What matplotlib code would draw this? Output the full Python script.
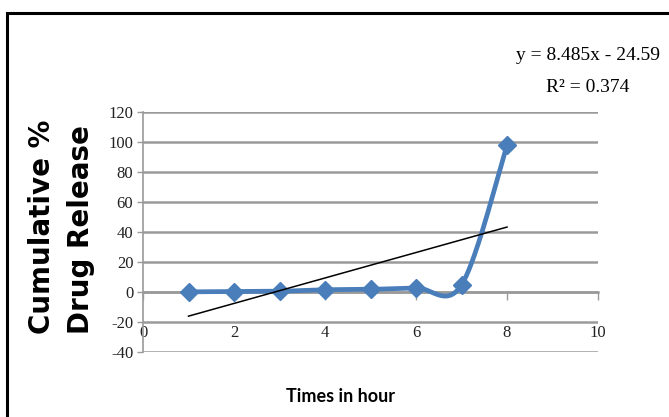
import numpy as np
import matplotlib
matplotlib.use("Agg")
import matplotlib.pyplot as plt
from matplotlib.patches import Rectangle

# Release data
hours = [1, 2, 3, 4, 5, 6, 7, 8]
release = [0.1, 0.3, 0.5, 1.5, 1.8, 2.8, 4.7, 97.7]

# Linear trendline
slope = 8.485
intercept = -24.59
r_squared = 0.374

x_ticks = [0, 2, 4, 6, 8, 10]
y_ticks = [-40, -20, 0, 20, 40, 60, 80, 100, 120]

BLUE = "#4A7EBB"
GRID = "#9a9a9a"


def smooth_curve(xs, ys, n=40):
    """Bezier smoothing through every point (spreadsheet-style smoothed line)."""
    xs = np.asarray(xs, float)
    ys = np.asarray(ys, float)
    px = np.concatenate([[xs[0]], xs, [xs[-1]]])
    py = np.concatenate([[ys[0]], ys, [ys[-1]]])
    out_x, out_y = [], []
    t = np.linspace(0, 1, n)
    for i in range(1, len(px) - 2):
        p0 = np.array([px[i - 1], py[i - 1]])
        p1 = np.array([px[i], py[i]])
        p2 = np.array([px[i + 1], py[i + 1]])
        p3 = np.array([px[i + 2], py[i + 2]])
        c1 = p1 + (p2 - p0) / 6.0
        c2 = p2 - (p3 - p1) / 6.0
        b = ((1 - t) ** 3)[:, None] * p1 + (3 * (1 - t) ** 2 * t)[:, None] * c1 \
            + (3 * (1 - t) * t ** 2)[:, None] * c2 + (t ** 3)[:, None] * p2
        out_x.extend(b[:, 0])
        out_y.extend(b[:, 1])
    return np.array(out_x), np.array(out_y)


fig = plt.figure(figsize=(6.69, 4.17), dpi=100)
ax = fig.add_axes([143 / 669, 1 - 352 / 417, 455 / 669, 240 / 417])

ax.set_xlim(0, 10)
ax.set_ylim(-40, 120)

# gridlines
for yv in y_ticks:
    ax.axhline(yv, color=GRID, lw=1.8, zorder=1)

for s in ["top", "right", "bottom"]:
    ax.spines[s].set_visible(False)
ax.spines["left"].set_color(GRID)
ax.spines["left"].set_linewidth(1.2)

ax.set_yticks(y_ticks)
ax.set_yticklabels([str(v) for v in y_ticks], family="Liberation Serif",
                   fontsize=12, color="#222222")
ax.tick_params(axis="y", direction="out", length=4, width=1, color=GRID, pad=3)

ax.set_xticks([])

# x-axis crossing at zero with tick marks
zero_axis = ax.secondary_xaxis(40 / 160)
zero_axis.set_xticks(x_ticks)
zero_axis.set_xticklabels([""] * len(x_ticks))
zero_axis.tick_params(direction="out", length=6, width=1, color=GRID)
zero_axis.spines["bottom"].set_color(GRID)
zero_axis.spines["bottom"].set_linewidth(1.8)

# x tick labels sitting low
label_axis = ax.secondary_xaxis(20 / 160)
label_axis.set_xticks(x_ticks)
label_axis.set_xticklabels([str(v) for v in x_ticks], family="Liberation Serif",
                           fontsize=12, color="#222222")
label_axis.tick_params(length=0, pad=2)
label_axis.spines["bottom"].set_visible(False)

# data series
sx, sy = smooth_curve(hours, release)
ax.plot(sx, sy, color=BLUE, lw=3.4, zorder=3, solid_capstyle="round")
ax.plot(hours, release, linestyle="none", marker="D", markersize=9,
        color=BLUE, zorder=4)

# trendline
tx = np.array([hours[0], hours[-1]], float)
ax.plot(tx, slope * tx + intercept, color="black", lw=1.1, zorder=5)

fig.text(340 / 669, 1 - 396 / 417, "Times in hour", ha="center", va="center",
         family="Lato", fontweight="bold", fontsize=13)

fig.text(42 / 669, 1 - 227 / 417, "Cumulative %", rotation=90, ha="center",
         va="center", family="DejaVu Sans", fontweight="bold", fontsize=20)
fig.text(81 / 669, 1 - 230 / 417, "Drug Release", rotation=90, ha="center",
         va="center", family="DejaVu Sans", fontweight="bold", fontsize=20)

fig.text(588 / 669, 1 - 55 / 417, f"y = {slope}x - {abs(intercept)}",
         ha="center", va="center", family="Liberation Serif", fontsize=14)
fig.text(588 / 669, 1 - 88 / 417, f"R² = {r_squared}",
         ha="center", va="center", family="Liberation Serif", fontsize=14)

# outer frame
fig.patches.append(Rectangle((7 / 669, -0.1), 1.2, 1 - 13 / 417 + 0.1,
                             transform=fig.transFigure, fill=False,
                             edgecolor="black", lw=2.2))

fig.savefig("out.png", dpi=100)
